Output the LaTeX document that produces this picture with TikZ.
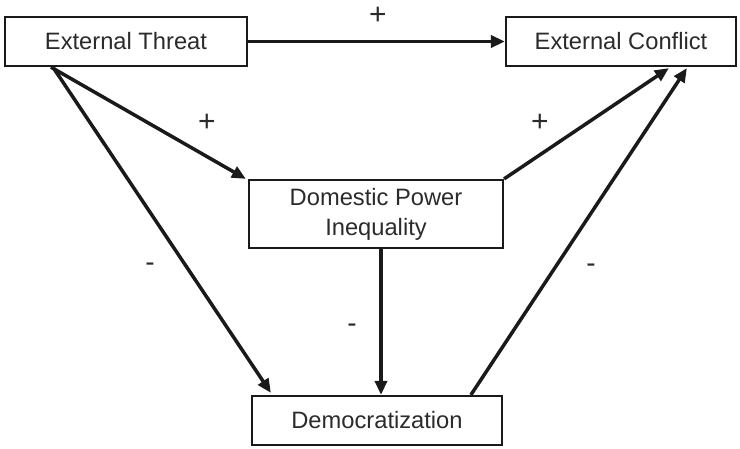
\documentclass[tikz,border=0pt]{standalone}
\usepackage{fontspec}
\setmainfont{Liberation Sans}
\usetikzlibrary{arrows.meta,calc}
\definecolor{ink}{HTML}{1A1A1A}
\definecolor{lettering}{HTML}{2B2B2B}
\begin{document}
\begin{tikzpicture}[x=1pt,y=-1pt,
  box/.style={draw=ink, line width=2.2pt, fill=white, inner sep=0pt, align=center,
    font=\fontsize{23.7}{30}\selectfont, text=lettering},
  link/.style={line width=3.5pt, draw=ink, -{Triangle[length=14pt,width=12pt]}},
  plus/.style={font=\fontsize{30}{30}\selectfont, text=lettering, inner sep=0pt},
  minus/.style={font=\fontsize{28}{30}\selectfont, text=lettering, inner sep=0pt}]
\useasboundingbox[fill=white] (0,0) rectangle (740,448);

% the four factors
\node[box, minimum width=242pt, minimum height=49pt] (et) at (126,41.5) {External Threat};
\node[box, minimum width=230pt, minimum height=49pt] (ec) at (621,41.5) {External Conflict};
\node[box, minimum width=254pt, minimum height=68pt] (dpi) at (376,214) {Domestic Power\\Inequality};
\node[box, minimum width=250pt, minimum height=49pt] (dem) at (377,420.5) {Democratization};

% causal links
\draw[link] (et.east) -- (ec.west);
\draw[link] ($(et.south west)+(47,0)$) -- ($(dpi.north west)+(-2,0)$);
\draw[link] ($(et.south west)+(49,0)$) -- ($(dem.north west)+(20,-2)$);
\draw[link] (dpi.south -| 381,0) -- (dem.north -| 381,0);
\draw[link] (dpi.north east) -- ($(ec.south west)+(164,1)$);
\draw[link] ($(dem.north west)+(220,0)$) -- ($(ec.south west)+(182,1)$);

% signs of the effects
\node[plus] (s1) at (378,16) {+};
\node[plus] (s2) at (207,123) {+};
\node[plus] (s3) at (540,123) {+};
\node[minus] (s4) at (150,267) {-};
\node[minus] (s5) at (352,328) {-};
\node[minus] (s6) at (591,268) {-};
\end{tikzpicture}
\end{document}
